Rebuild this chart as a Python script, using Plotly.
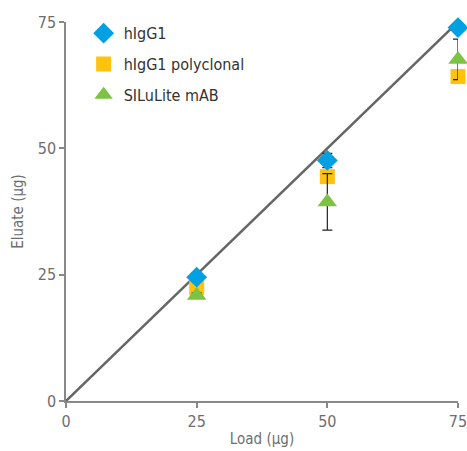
import plotly.graph_objects as go

loads = [25, 50, 75]
higg1 = [24.5, 47.6, 73.9]
higg1_err = [0.6, 1.4, 0.8]
poly = [22.4, 44.4, 64.2]
poly_err = [0.5, 0.8, 0.6]
silu = [20.9, 39.4, 67.6]
silu_err = [0.5, 5.6, 4.0]
line_x = [0, 75]
line_y = [0, 75]

font_family = "DejaVu Sans Condensed, Roboto, Arial"
gray = "#6d6e71"

fig = go.Figure()
fig.add_trace(go.Scatter(x=line_x, y=line_y, mode="lines",
                         line=dict(color="#666666", width=2.5), showlegend=False,
                         hoverinfo="skip"))

def add(name, y, err, color, symbol, size, rank):
    fig.add_trace(go.Scatter(
        x=loads, y=y, mode="markers", name=name, legendrank=rank,
        legendgroup=name,
        marker=dict(color=color, symbol=symbol, size=size, line=dict(width=0)),
        error_y=dict(type="data", array=err, visible=True, color="#222222",
                     thickness=1.2, width=5),
        cliponaxis=False))

add("hIgG1 polyclonal", poly, poly_err, "#ffc20e", "square", 15, 2)
add("SILuLite mAB", silu, silu_err, "#7dc243", "triangle-up", 17, 3)
add("hIgG1", higg1, higg1_err, "#00a0e3", "diamond", 16, 1)

axis_common = dict(range=[0, 75], tickvals=[0, 25, 50, 75], showgrid=False,
                   zeroline=False, showline=True, linecolor="#888888", linewidth=1.5,
                   ticks="outside", ticklen=5, tickcolor="#888888", tickwidth=1.5,
                   automargin=False, ticklabeloverflow="allow",
                   tickfont=dict(family=font_family, size=16, color=gray),
                   title_font=dict(family=font_family, size=15, color=gray))

fig.update_xaxes(**axis_common, title_text="Load (µg)", title_standoff=4)
fig.update_yaxes(**axis_common, title_text="Eluate (µg)", title_standoff=10)

fig.update_layout(
    width=467, height=451,
    margin=dict(l=66, r=9, t=22, b=50),
    plot_bgcolor="white", paper_bgcolor="white",
    legend=dict(x=0.045, y=1.015, xanchor="left", yanchor="top",
                font=dict(family=font_family, size=16, color="#333333"),
                bgcolor="rgba(0,0,0,0)", itemsizing="trace", tracegroupgap=7,
                traceorder="grouped"),
)

fig.write_html("out.html")
